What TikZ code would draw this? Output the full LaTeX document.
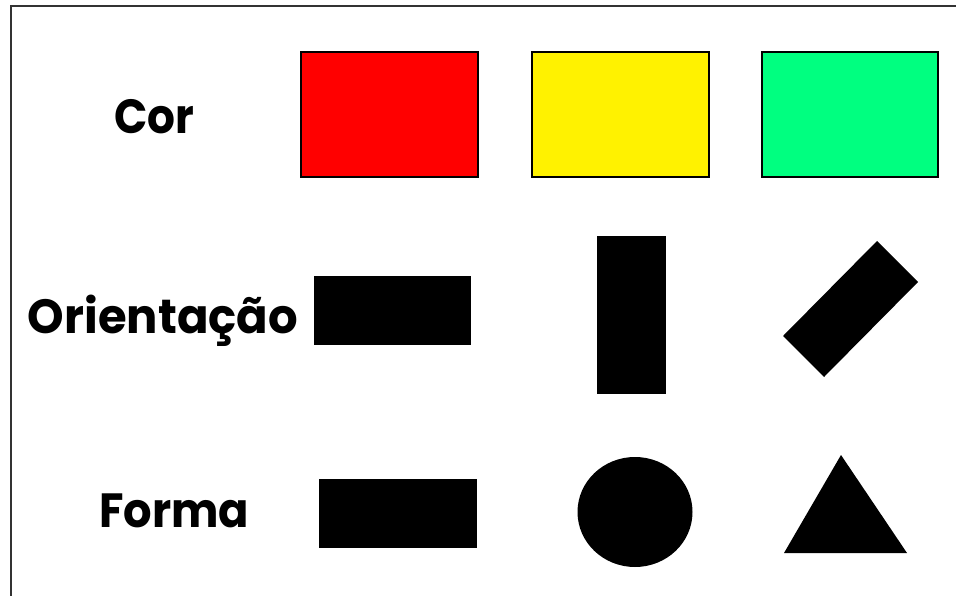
\documentclass[tikz,border=0pt]{standalone}
\usepackage{fontspec}
\setmainfont{Poppins}[BoldFont={* Bold}]
\usepackage{graphicx}
\definecolor{cgreen}{HTML}{00FF80}
\definecolor{framegray}{HTML}{333333}
\tikzset{
  lbl/.style={anchor=base, inner sep=0pt, font=\fontsize{48}{48}\selectfont\bfseries},
  swatch/.style={draw=black, line width=2pt},
  solid shape/.style={fill=black, draw=none}
}
\begin{document}
\begin{tikzpicture}[x=1pt,y=-1pt]
\useasboundingbox (0,0) rectangle (956,596);
\draw[framegray, line width=1.5pt] (11,596) -- (11,6) -- (956,6);
% labels
\node[lbl] (cor) at (154,134) {\resizebox{80pt}{\height}{Cor}};
\node[lbl] (ori) at (163,334) {\resizebox{270pt}{\height}{Orientação}};
\node[lbl] (forma) at (174,527) {\resizebox{150pt}{\height}{Forma}};
% colour row
\draw[swatch, fill=red] (301,52) rectangle (478,177);
\draw[swatch, fill=yellow] (532,52) rectangle (709,177);
\draw[swatch, fill=cgreen] (762,52) rectangle (938,177);
% orientation row
\fill[solid shape] (314,276) rectangle (471,345);
\fill[solid shape] (597,236) rectangle (666,394);
\fill[solid shape] (783,336) -- (877,241) -- (918,282) -- (824,377) -- cycle;
% shape row
\fill[solid shape] (319,479) rectangle (477,548);
\fill[solid shape] (635,512) ellipse (57.5 and 55);
\fill[solid shape] (841,455) -- (907,553) -- (784,553) -- cycle;
\end{tikzpicture}
\end{document}
